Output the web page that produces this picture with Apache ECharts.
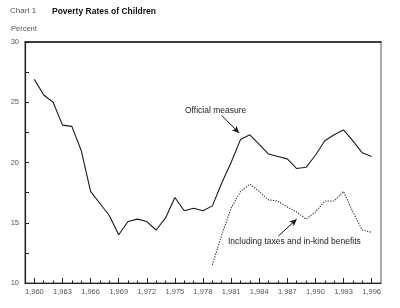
<!DOCTYPE html>
<html><head><meta charset="utf-8">
<script src="https://cdn.jsdelivr.net/npm/echarts@6/dist/echarts.min.js"></script>
<style>html,body{margin:0;padding:0;background:#fff}#c{width:400px;height:308px}</style>
</head><body><div id="c"></div>
<script>
const years = [1960,1961,1962,1963,1964,1965,1966,1967,1968,1969,1970,1971,1972,1973,1974,1975,1976,1977,1978,1979,1980,1981,1982,1983,1984,1985,1986,1987,1988,1989,1990,1991,1992,1993,1994,1995,1996];
const official = [26.9,25.6,25.0,23.1,23.0,21.0,17.6,16.6,15.6,14.0,15.1,15.3,15.1,14.4,15.4,17.1,16.0,16.2,16.0,16.4,18.3,20.0,21.9,22.3,21.5,20.7,20.5,20.3,19.5,19.6,20.6,21.8,22.3,22.7,21.8,20.8,20.5];
const taxYears = [1979,1980,1981,1982,1983,1984,1985,1986,1987,1988,1989,1990,1991,1992,1993,1994,1995,1996];
const withTaxes = [11.5,14.0,16.2,17.6,18.2,17.6,16.9,16.8,16.3,15.9,15.3,15.9,16.8,16.8,17.6,15.9,14.4,14.2];
const labelYears = [1960,1963,1966,1969,1972,1975,1978,1981,1984,1987,1990,1993,1996];
const minorYears = [1960,1961,1962,1963,1964,1965,1966,1967,1968,1969,1970,1971,1972,1973,1974,1975,1976,1977,1978,1979,1980,1981,1982,1983,1984,1985,1986,1987,1988,1989,1990,1991,1992,1993,1994,1995,1996];
const officialArrow = [[1980.0, 23.9], [1981.85, 22.45]];
const taxArrow = [[1986.05, 13.9], [1988.0, 15.3]];

const font = '"Liberation Sans", Arial, sans-serif';
const chart = echarts.init(document.getElementById('c'), null, {renderer: 'canvas'});
const pair = (xs, ys) => xs.map((x, i) => [x, ys[i]]);
const arrowLine = (pts) => ({
  silent: true, symbol: ['none', 'arrow'], symbolSize: [5, 7],
  lineStyle: {color: '#111', width: 1, type: 'solid'}, label: {show: false},
  data: [[{coord: pts[0]}, {coord: pts[1]}]]
});
chart.setOption({
  animation: false,
  backgroundColor: '#fff',
  grid: {left: 25, right: 19, top: 42, bottom: 25, show: true, borderColor: '#555', borderWidth: 1, backgroundColor: 'transparent'},
  xAxis: [{
    type: 'value', min: 1959, max: 1997, position: 'bottom',
    axisLine: {lineStyle: {color: '#222', width: 1.2}},
    axisTick: {customValues: labelYears, inside: true, length: 5, lineStyle: {color: '#222'}},
    axisLabel: {customValues: labelYears, margin: 5, fontSize: 7.5, color: '#555', fontFamily: font},
    splitLine: {show: false}
  }, {
    type: 'value', min: 1959, max: 1997, position: 'bottom',
    axisLine: {show: false},
    axisTick: {customValues: minorYears, inside: true, length: 2.5, lineStyle: {color: '#222'}},
    axisLabel: {show: false},
    splitLine: {show: false}
  }, {
    type: 'value', min: 1959, max: 1997, position: 'top',
    axisLine: {show: true, lineStyle: {color: '#1a1a1a', width: 1.6}},
    axisTick: {show: false}, axisLabel: {show: false}, splitLine: {show: false}
  }],
  yAxis: {
    type: 'value', min: 10, max: 30, interval: 2.5,
    axisLine: {show: true, lineStyle: {color: '#222', width: 1.2}},
    axisTick: {show: true, inside: true, length: 4, lineStyle: {color: '#222'}},
    axisLabel: {formatter: v => (v % 5 === 0 ? String(v) : ''), margin: 6, fontSize: 7.5, color: '#555', fontFamily: font},
    splitLine: {show: false}
  },
  series: [{
    type: 'line', data: pair(years, official), symbol: 'none',
    lineStyle: {color: '#1a1a1a', width: 1.1},
    markLine: arrowLine(officialArrow)
  }, {
    type: 'line', data: pair(taxYears, withTaxes), symbol: 'none',
    lineStyle: {color: '#333', width: 1.1, type: [1.3, 1.3]},
    markLine: arrowLine(taxArrow)
  }],
  graphic: [
    {type: 'text', left: 10, top: 7, style: {text: 'Chart 1', font: '8px ' + font, fill: '#555'}},
    {type: 'text', left: 52, top: 7, style: {text: 'Poverty Rates of Children', font: 'bold 8.5px ' + font, fill: '#111'}},
    {type: 'text', left: 11, top: 25, style: {text: 'Percent', font: '7.5px ' + font, fill: '#555'}},
    {type: 'text', left: 185, top: 106, style: {text: 'Official measure', font: '8.5px ' + font, fill: '#222'}},
    {type: 'text', left: 228, top: 237, style: {text: 'Including taxes and in-kind benefits', font: '8.5px ' + font, fill: '#222'}}
  ]
});
</script>
</body></html>
